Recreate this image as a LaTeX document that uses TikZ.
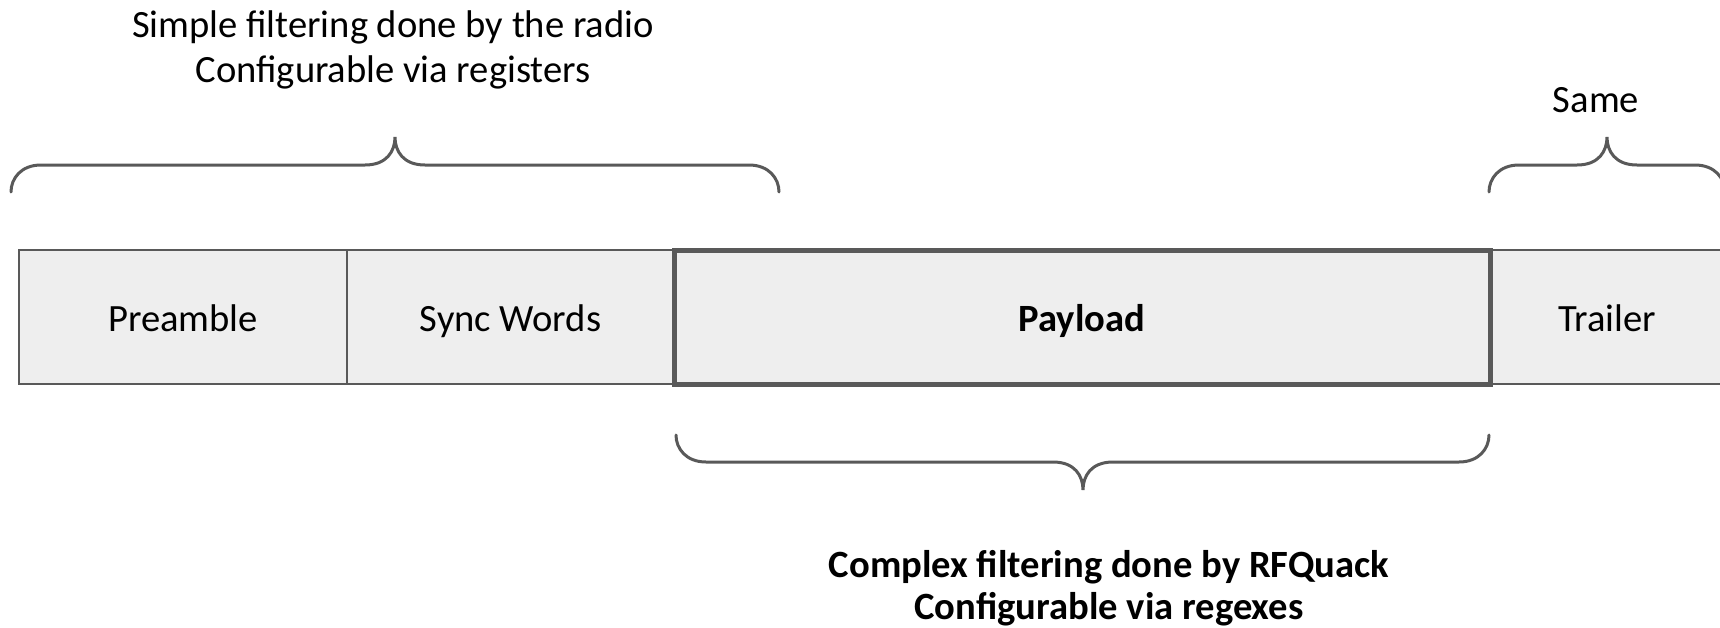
\documentclass[tikz,border=0pt]{standalone}
\usepackage{fontspec}
\setmainfont{Carlito}
\definecolor{edge}{HTML}{595959}
\definecolor{cell}{HTML}{EEEEEE}
\tikzset{
  x=0.5pt, y=-0.5pt,
  field/.style={draw=edge, fill=cell, line width=1pt, inner sep=0pt,
    minimum height=67pt, text height=16pt, text depth=2pt,
    font=\fontsize{19.3}{22}\selectfont},
  keyfield/.style={field, line width=2.5pt, font=\fontsize{19.3}{22}\selectfont\bfseries},
  brace/.style={draw=edge, line width=1.5pt, line cap=round},
  note/.style={align=center, inner sep=0pt, font=\fontsize{19.3}{22.5}\selectfont},
}
% curly brace: ends at (#1,#3) and (#2,#3), straight part at #4, cusp at (#5,#6)
\newcommand{\fieldbrace}[6]{%
  \path[brace] (#1,#3) .. controls (#1,{(#3+#4)/2}) and ({#1+10},#4) .. ({#1+30},#4)
    -- ({#5-30},#4) .. controls ({#5-8},#4) and (#5,{(#4+#6)/2}) .. (#5,#6)
    .. controls (#5,{(#4+#6)/2}) and ({#5+8},#4) .. ({#5+30},#4)
    -- ({#2-30},#4) .. controls ({#2-10},#4) and (#2,{(#3+#4)/2}) .. (#2,#3);}
\begin{document}
\begin{tikzpicture}
\useasboundingbox (0,0) rectangle (1720,627);
\clip (0,0) rectangle (1720,627);

% packet fields
\node[field, minimum width=164pt]   (pre)  at (183,317)    {Preamble};
\node[field, minimum width=163.5pt] (sync) at (510.5,317)  {Sync Words};
\node[field, minimum width=117pt]   (trl)  at (1607,317)   {Trailer};
\node[keyfield, minimum width=408pt] (pay) at (1082,317)   {Payload};

% braces
\fieldbrace{11}{779}{192}{165}{395}{137}
\fieldbrace{1489}{1725}{192}{165}{1607}{137}
\fieldbrace{676}{1489}{435}{462}{1083}{490}

% annotations
\node[note] (radio) at (393,50) {Simple filtering done by the radio\\Configurable via registers};
\node[note] (same) at (1596,100) {Same};
\node[note, font=\fontsize{19.3}{21}\selectfont\bfseries] (quack) at (1109,588)
  {Complex filtering done by RFQuack\\Configurable via regexes};
\end{tikzpicture}
\end{document}
